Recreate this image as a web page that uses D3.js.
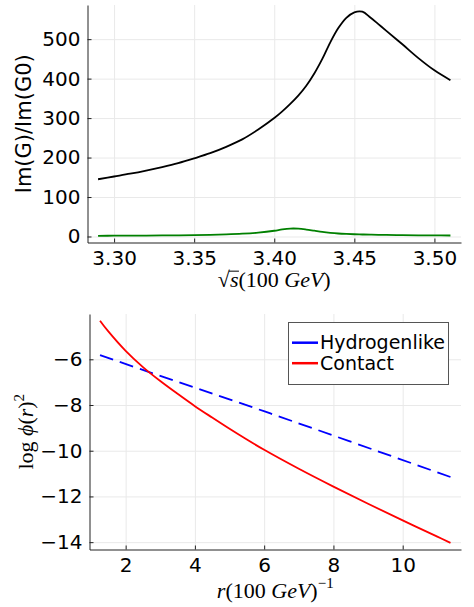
<!DOCTYPE html>
<html>
<head>
<meta charset="utf-8">
<script src="https://cdn.jsdelivr.net/npm/d3@7"></script>
<style>
body { margin: 0; background: #fff; }
</style>
</head>
<body>
<script>
// top panel: Im(G)/Im(G0) vs sqrt(s)
var sqrtS = [3.29, 3.30, 3.31, 3.32, 3.33, 3.34, 3.35, 3.36, 3.37, 3.38, 3.39, 3.40, 3.405, 3.41, 3.415, 3.42,
  3.425, 3.43, 3.435, 3.44, 3.445, 3.45, 3.455, 3.46, 3.465, 3.47, 3.48, 3.49, 3.50, 3.51];
var imGBlack = [145, 152, 159, 167, 176, 186, 198, 211, 227, 246, 271, 300, 317, 336, 357, 382,
  413, 450, 492, 528, 554, 568, 569.5, 555, 538, 521, 487, 452, 421, 396];
var imGGreen = [1.8, 2.0, 2.1, 2.3, 2.6, 3.0, 3.5, 4.2, 5.3, 7.0, 9.8, 14.5, 17.9, 20.0, 19.8, 17.6,
  14.6, 11.6, 9.3, 7.6, 6.5, 5.7, 5.1, 4.6, 4.2, 3.9, 3.4, 3.0, 2.7, 2.5];
var topXTicks = [3.30, 3.35, 3.40, 3.45, 3.50];
var topYTicks = [0, 100, 200, 300, 400, 500];

// bottom panel: log phi(r)^2 vs r
var rContact = [1.26, 1.5, 2, 2.5, 3, 3.5, 4, 4.5, 5, 5.5, 6, 7, 8, 9, 10, 11, 11.38];
var logPhiContact = [-4.31, -4.78, -5.63, -6.34, -6.95, -7.51, -8.05, -8.55, -9.04, -9.51, -9.96, -10.79, -11.57, -12.32, -13.05, -13.76, -14.03];
var rHydrogen = [1.26, 2.7, 6.18, 11.38];
var logPhiHydrogen = [-5.82, -6.57, -8.37, -11.15];
var bottomXTicks = [2, 4, 6, 8, 10];
var bottomYTicks = [-6, -8, -10, -12, -14];
var legendNames = ["Hydrogenlike", "Contact"];
var legendColors = ["#0000ff", "#ff0000"];

var W = 474, H = 607;
var svg = d3.select("body").append("svg")
  .attr("width", W)
  .attr("height", H)
  .style("background", "#fff");

// Plots.jl style padding of 3% on each side
function padded(ext) {
  var d = (ext[1] - ext[0]) * 0.03;
  return [ext[0] - d, ext[1] + d];
}

function drawFrame(box, xScale, yScale, xTicks, yTicks, fmtX, fmtY) {
  var w = box.right - box.left, h = box.bottom - box.top;
  // grid
  svg.append("g")
    .attr("transform", "translate(0," + box.bottom + ")")
    .call(d3.axisBottom(xScale).tickValues(xTicks).tickSize(-h).tickFormat(""))
    .call(function(g) { g.select(".domain").remove(); })
    .selectAll("line").attr("stroke", "#e9e9e9");
  svg.append("g")
    .attr("transform", "translate(" + box.left + ",0)")
    .call(d3.axisLeft(yScale).tickValues(yTicks).tickSize(-w).tickFormat(""))
    .call(function(g) { g.select(".domain").remove(); })
    .selectAll("line").attr("stroke", "#e9e9e9");

  var xa = svg.append("g")
    .attr("transform", "translate(0," + box.bottom + ")")
    .call(d3.axisBottom(xScale).tickValues(xTicks).tickSize(-4).tickSizeOuter(0).tickPadding(8).tickFormat(fmtX));
  var ya = svg.append("g")
    .attr("transform", "translate(" + box.left + ",0)")
    .call(d3.axisLeft(yScale).tickValues(yTicks).tickSize(-4).tickSizeOuter(0).tickPadding(7).tickFormat(fmtY));
  [xa, ya].forEach(function(a) {
    a.select(".domain").attr("stroke", "#222");
    a.selectAll("line").attr("stroke", "#222");
    a.selectAll("text")
      .attr("fill", "#000")
      .style("font-family", "DejaVu Sans")
      .style("font-size", "20px");
  });
}

// ---------- top panel ----------
var topBox = { left: 87.5, right: 461, top: 5, bottom: 242.5 };
var xTop = d3.scaleLinear()
  .domain(padded(d3.extent(sqrtS)))
  .range([topBox.left, topBox.right]);
var yTop = d3.scaleLinear()
  .domain(padded(d3.extent(imGBlack.concat(imGGreen))))
  .range([topBox.bottom, topBox.top]);

drawFrame(topBox, xTop, yTop, topXTicks, topYTicks, d3.format(".2f"), d3.format("d"));

var lineTop = function(vals) {
  return d3.line()
    .x(function(d, i) { return xTop(sqrtS[i]); })
    .y(function(d) { return yTop(d); })
    .curve(d3.curveCatmullRom.alpha(0.5))(vals);
};
svg.append("path").attr("d", lineTop(imGBlack))
  .attr("fill", "none").attr("stroke", "#000").attr("stroke-width", 1.8);
svg.append("path").attr("d", lineTop(imGGreen))
  .attr("fill", "none").attr("stroke", "#008000").attr("stroke-width", 1.8);

svg.append("text")
  .attr("transform", "translate(31," + ((topBox.top + topBox.bottom) / 2) + ") rotate(-90)")
  .attr("text-anchor", "middle")
  .style("font-family", "DejaVu Sans")
  .style("font-size", "21px")
  .text("Im(G)/Im(G0)");

var serif = "Liberation Serif";
var xlabTop = svg.append("text")
  .attr("x", (topBox.left + topBox.right) / 2)
  .attr("y", 287)
  .attr("text-anchor", "middle")
  .style("font-family", serif)
  .style("font-size", "22px");
xlabTop.append("tspan").text("\u221A");
xlabTop.append("tspan").style("font-style", "italic").text("s");
xlabTop.append("tspan").text("(100 ");
xlabTop.append("tspan").style("font-style", "italic").text("GeV");
xlabTop.append("tspan").text(")");
// vinculum of the square root
var e0 = xlabTop.node().getExtentOfChar(0);
var e1 = xlabTop.node().getExtentOfChar(1);
var vy = 287 - 0.72 * 22;
svg.append("line")
  .attr("x1", e0.x + e0.width - 1).attr("x2", e1.x + e1.width + 0.5)
  .attr("y1", vy).attr("y2", vy)
  .attr("stroke", "#000").attr("stroke-width", 1);

// ---------- bottom panel ----------
var botBox = { left: 89.5, right: 461, top: 314, bottom: 549.5 };
var xBot = d3.scaleLinear()
  .domain(padded(d3.extent(rContact.concat(rHydrogen))))
  .range([botBox.left, botBox.right]);
var yBot = d3.scaleLinear()
  .domain(padded(d3.extent(logPhiContact.concat(logPhiHydrogen))))
  .range([botBox.bottom, botBox.top]);

drawFrame(botBox, xBot, yBot, bottomXTicks, bottomYTicks, d3.format("d"), d3.format("d"));

var hydro = rHydrogen.map(function(r, i) { return [r, logPhiHydrogen[i]]; });
var contact = rContact.map(function(r, i) { return [r, logPhiContact[i]]; });
var lineBot = d3.line()
  .x(function(d) { return xBot(d[0]); })
  .y(function(d) { return yBot(d[1]); })
  .curve(d3.curveCatmullRom.alpha(0.5));

svg.append("path").attr("d", lineBot(hydro))
  .attr("fill", "none").attr("stroke", legendColors[0]).attr("stroke-width", 1.8)
  .attr("stroke-dasharray", "14,7");
svg.append("path").attr("d", lineBot(contact))
  .attr("fill", "none").attr("stroke", legendColors[1]).attr("stroke-width", 1.8);

// legend
var lg = svg.append("g");
lg.append("rect")
  .attr("x", 288.5).attr("y", 322.5).attr("width", 160).attr("height", 62)
  .attr("fill", "#fff").attr("stroke", "#555").attr("stroke-width", 1);
legendNames.forEach(function(name, i) {
  var yy = 342.7 + i * 20.5;
  lg.append("line")
    .attr("x1", 292).attr("x2", 318).attr("y1", yy).attr("y2", yy)
    .attr("stroke", legendColors[i]).attr("stroke-width", 2.5);
  lg.append("text")
    .attr("x", 320).attr("y", yy + 6.5)
    .style("font-family", "DejaVu Sans")
    .style("font-size", "19px")
    .text(name);
});

var ylabBot = svg.append("text")
  .attr("transform", "translate(33," + ((botBox.top + botBox.bottom) / 2) + ") rotate(-90)")
  .attr("text-anchor", "middle")
  .style("font-family", serif)
  .style("font-size", "22px");
ylabBot.append("tspan").text("log ");
ylabBot.append("tspan").style("font-style", "italic").text("\u03D5");
ylabBot.append("tspan").text("(");
ylabBot.append("tspan").style("font-style", "italic").text("r");
ylabBot.append("tspan").text(")");
ylabBot.append("tspan").attr("dy", -9).style("font-size", "15px").text("2");

var xlabBot = svg.append("text")
  .attr("x", (botBox.left + botBox.right) / 2)
  .attr("y", 598)
  .attr("text-anchor", "middle")
  .style("font-family", serif)
  .style("font-size", "22px");
xlabBot.append("tspan").style("font-style", "italic").text("r");
xlabBot.append("tspan").text("(100 ");
xlabBot.append("tspan").style("font-style", "italic").text("GeV");
xlabBot.append("tspan").text(")");
xlabBot.append("tspan").attr("dy", -10).style("font-size", "15px").text("\u22121");
</script>
</body>
</html>
